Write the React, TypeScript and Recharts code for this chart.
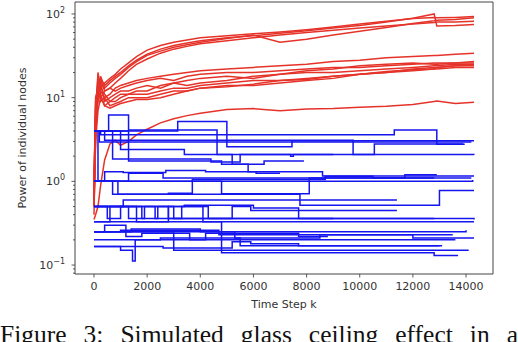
import { LineChart, Line, XAxis, YAxis, ReferenceArea } from 'recharts'

const xTicks = [0, 2000, 4000, 6000, 8000, 10000, 12000, 14000]
const yMajorTicks = [0.1, 1, 10, 100]
const yMajorLabels = ['\u22121', '0', '1', '2']
const yMinorTicks = [
  0.08, 0.09, 0.2, 0.3, 0.4, 0.5, 0.6, 0.7, 0.8, 0.9, 2, 3, 4, 5, 6, 7, 8, 9, 20, 30, 40, 50, 60, 70, 80, 90,
]
const xDomain = [-715, 15015]
const yDomain = [0.0782, 139]

// red nodes: shared time grid
const redSteps = [
  0, 60, 150, 250, 400, 600, 800, 1000, 1300, 1600, 2000, 2500, 3000, 3500, 4000, 5000, 6000, 7000, 8000, 9000,
  10000, 11000, 12000, 12800, 12900, 13600, 14300,
]
const redT1 = [0.7, 6, 20, 13, 15, 17, 19, 22, 26, 31, 37, 42, 46, 49, 52, 55, 58, 61, 65, 70, 76, 82, 88, 91, 90, 91, 93]
const redT2 = [0.5, 3, 15, 17, 14, 16, 18, 20, 24, 28, 33, 38, 42, 45, 48, 52, 55, 59, 63, 68, 73, 80, 89, 100, 72, 73, 75]
const redT3 = [0.9, 8, 12, 18, 13, 15, 17, 19, 23, 27, 32, 36, 40, 43, 46, 51, 56, 46, 50, 56, 62, 69, 77, 83, 84, 86, 90]
const redT4 = [0.6, 4, 10, 16, 12, 13, 15, 17, 21, 25, 29, 34, 38, 41, 44, 48, 52, 56, 60, 64, 68, 72, 76, 79, 80, 80, 82]
const redM1 = [0.5, 7, 18, 12, 10, 11, 13, 14, 15, 16, 17, 18, 19, 20, 21, 22, 23, 24, 25, 27, 28, 30, 31, 32, 32, 33, 34]
const redM2 = [0.8, 9, 14, 10, 12, 13, 12, 13, 14, 15, 16, 17, 16, 18, 19, 20, 20, 21, 22, 23, 23, 24, 25, 26, 26, 26, 27]
const redM3 = [0.4, 4, 11, 15, 9, 10, 11, 12, 12, 13, 14, 13, 15, 16, 17, 18, 17, 19, 21, 22, 24, 25, 26, 25, 25, 26, 26]
const redM4 = [1, 6, 9, 13, 11, 9, 10, 11, 11, 12, 12, 14, 15, 14, 15, 16, 18, 19, 20, 20, 21, 22, 23, 24, 24, 25, 25]
const redM5 = [0.6, 5, 16, 11, 8, 9, 9, 10, 11, 11, 11, 12, 13, 13, 14, 15, 16, 16, 17, 18, 19, 20, 21, 22, 23, 24, 24.5]
const redM6 = [0.9, 10, 13, 9, 10, 8, 8.5, 9, 10, 10, 10, 11, 12, 12, 13, 14, 14, 15, 16, 17, 19, 20, 22, 23, 23, 24, 24]
const redM7 = [0.5, 3, 7, 10, 8, 7.5, 8, 8.5, 9, 9.5, 9.5, 10, 11, 12, 13, 13.5, 14.5, 16, 16.5, 18, 19, 20.5, 21.5, 22, 22, 23, 23]
const redL1 = [0.35, 0.4, 0.5, 0.9, 1.8, 2.8, 3.1, 2.7, 3.0, 3.6, 4.2, 5.0, 5.6, 6.1, 6.5, 7.2, 7.4, 7.0, 7.3, 7.4, 7.7, 7.9, 8.3, 9.0, 9.1, 8.5, 8.8]

// blue nodes: [step, power] change points
const blue01 = [[0, 4], [3150, 5.2], [5000, 2.6], [7450, 3.05], [14300, 3.05]]
const blue02 = [[0, 4], [250, 3.6], [11300, 4.1], [12900, 2.77], [13950, 2.77]]
const blue03 = [[0, 4], [550, 6.2], [1300, 4.1], [4630, 2.1], [14300, 2.08]]
const blue04 = [[0, 4], [400, 3.1], [9750, 2.1], [10550, 2.8], [13900, 2.8]]
const blue05 = [[0, 4], [200, 2.95], [14200, 2.95]]
const blue06 = [[0, 4], [1300, 1.75], [4800, 1.6], [5800, 1.3], [8600, 1.16], [14300, 1.16]]
const blue07 = [[0, 1], [1300, 1.25], [2600, 1.1], [11700, 1.2], [12900, 1.2]]
const blue08 = [[0, 1], [14250, 1.04]]
const blue09 = [[0, 1], [4800, 0.71], [8100, 1.1], [14200, 1.1]]
const blue10 = [[0, 1], [700, 0.7], [7750, 0.52], [13000, 0.78], [14300, 0.78]]
const blue11 = [[0, 0.5], [1100, 0.6], [11400, 0.6]]
const blue12 = [[0, 0.5], [2300, 0.36], [14300, 0.35]]
const blue13 = [[0, 0.5], [3400, 0.52], [6000, 0.48], [7700, 0.36], [12800, 0.36]]
const blue14 = [[0, 0.33], [600, 0.5], [1600, 0.33], [2800, 0.5], [4100, 0.33], [14300, 0.33]]
const blue15 = [[0, 0.25], [1000, 0.26], [4700, 0.23], [11400, 0.23], [12000, 0.21], [14300, 0.21]]
const blue16 = [[0, 0.25], [14000, 0.26]]
const blue17 = [[0, 0.167], [1000, 0.15], [1450, 0.112], [1550, 0.2], [13600, 0.2]]
const blue18 = [[0, 0.2], [2500, 0.21], [5500, 0.17], [13000, 0.17]]
const blue19 = [[0, 0.25], [3000, 0.15], [8900, 0.15], [14100, 0.15]]
const blue20 = [[0, 0.33], [4800, 0.14], [12800, 0.13], [13700, 0.13]]
const blue21 = [[0, 1], [400, 1.3], [1100, 1.28], [2700, 1.35], [4200, 1.3], [6100, 1.25], [7000, 1.25]]
const blue22 = [[0, 0.25], [1400, 0.27], [4000, 0.25], [5300, 0.21], [8500, 0.23], [13500, 0.23]]
const blue23 = [[0, 0.5], [500, 0.36], [1000, 0.5], [1800, 0.36], [2400, 0.5], [3000, 0.36], [9000, 0.36]]
const blue24 = [[0, 0.25], [400, 0.3], [1200, 0.22], [1800, 0.24], [3600, 0.2], [4200, 0.24], [7700, 0.22], [8800, 0.22]]
const blue25 = [[0, 0.167], [2600, 0.16], [5200, 0.19], [5900, 0.18], [7700, 0.17], [13100, 0.17]]
const blue26 = [[0, 4], [150, 1], [900, 0.7], [2800, 0.72], [3700, 1.05], [6700, 1.05], [8700, 1.15], [10500, 1.1], [12800, 1.1]]
const blue27 = [[0, 4], [700, 1.85], [4400, 1.7], [5500, 2.1], [7400, 2.0], [7500, 2.1], [9000, 2.1]]
const blue28 = [[0, 0.5], [1300, 0.36], [1900, 0.5], [2800, 0.36], [3300, 0.5], [4300, 0.36], [5200, 0.5], [5900, 0.45], [11400, 0.45]]
const blue29 = [[0, 4], [1000, 2.4], [3400, 2.1], [5200, 1.6], [6400, 1.75], [7900, 1.75]]

const redSeries = [redT1, redT2, redT3, redT4, redM1, redM2, redM3, redM4, redM5, redM6, redM7, redL1]
const blueSeries = [
  blue01, blue02, blue03, blue04, blue05, blue06, blue07, blue08, blue09, blue10, blue11, blue12, blue13, blue14,
  blue15, blue16, blue17, blue18, blue19, blue20, blue21, blue22, blue23, blue24, blue25, blue26, blue27, blue28,
  blue29,
]

const RED = '#e5332a'
const BLUE = '#1515f0'
const TXT = '#333'
const FONT = 'DejaVu Sans'

function YTick({ x, y, payload }: any) {
  const i = yMajorTicks.indexOf(payload.value)
  if (i < 0) return <line x1={x} x2={x - 2} y1={y} y2={y} stroke={TXT} strokeWidth={0.8} />
  return (
    <g>
      <line x1={x} x2={x - 3.5} y1={y} y2={y} stroke={TXT} strokeWidth={0.8} />
      <text x={x - 10} y={y + 4} textAnchor="end" fontFamily={FONT} fontSize={11} fill={TXT}>
        10
        <tspan dy={-5} fontSize={8}>
          {yMajorLabels[i]}
        </tspan>
      </text>
    </g>
  )
}

function XTick({ x, y, payload }: any) {
  return (
    <g>
      <line x1={x} x2={x} y1={y} y2={y + 3.5} stroke={TXT} strokeWidth={0.8} />
      <text x={x} y={y + 16} textAnchor="middle" fontFamily={FONT} fontSize={11} fill={TXT}>
        {payload.value}
      </text>
    </g>
  )
}

export default function App() {
  return (
    <div style={{ position: 'absolute', left: 0, top: 0, width: 518, height: 342, overflow: 'hidden', background: '#fff' }}>
      <LineChart width={518} height={342} margin={{ top: 2, right: 25, bottom: 38, left: 0 }}>
        <XAxis
          type="number"
          dataKey="x"
          domain={xDomain}
          ticks={xTicks}
          allowDataOverflow
          height={30}
          axisLine={false}
          tickLine={false}
          tickSize={0}
          tickMargin={0}
          tick={<XTick />}
          interval={0}
        />
        <YAxis
          type="number"
          scale="log"
          domain={yDomain}
          ticks={[...yMajorTicks, ...yMinorTicks]}
          allowDataOverflow
          width={75}
          axisLine={false}
          tickLine={false}
          tickSize={0}
          tickMargin={0}
          tick={<YTick />}
          interval={0}
        />
        {redSeries.map((vals, k) => (
          <Line
            key={'r' + k}
            data={redSteps.map((x, i) => ({ x, y: vals[i] }))}
            dataKey="y"
            type="linear"
            stroke={RED}
            strokeWidth={1.5}
            dot={false}
            isAnimationActive={false}
          />
        ))}
        {blueSeries.map((pts, k) => (
          <Line
            key={'b' + k}
            data={pts.map(([x, y]) => ({ x, y }))}
            dataKey="y"
            type="stepAfter"
            stroke={BLUE}
            strokeWidth={1.5}
            dot={false}
            isAnimationActive={false}
          />
        ))}
        <ReferenceArea
          x1={xDomain[0]}
          x2={xDomain[1]}
          y1={yDomain[0]}
          y2={yDomain[1]}
          fill="none"
          stroke="#444"
          strokeWidth={1}
        />
      </LineChart>
      <svg width={518} height={342} style={{ position: 'absolute', left: 0, top: 0, pointerEvents: 'none' }}>
        <text x={284} y={308} textAnchor="middle" fontFamily={FONT} fontSize={11} fill={TXT}>
          Time Step k
        </text>
        <text
          x={26}
          y={138}
          textAnchor="middle"
          transform="rotate(-90 26 138)"
          fontFamily={FONT}
          fontSize={11}
          fill={TXT}
        >
          Power of individual nodes
        </text>
      </svg>
      <div
        style={{
          position: 'absolute',
          left: 0,
          top: 322,
          width: 518,
          fontFamily: 'Liberation Serif',
          fontSize: 25.5,
          lineHeight: '25px',
          textAlign: 'justify',
          textAlignLast: 'justify',
          color: '#111',
          whiteSpace: 'nowrap',
        }}
      >
        Figure 3: Simulated glass ceiling effect in a
      </div>
    </div>
  )
}
